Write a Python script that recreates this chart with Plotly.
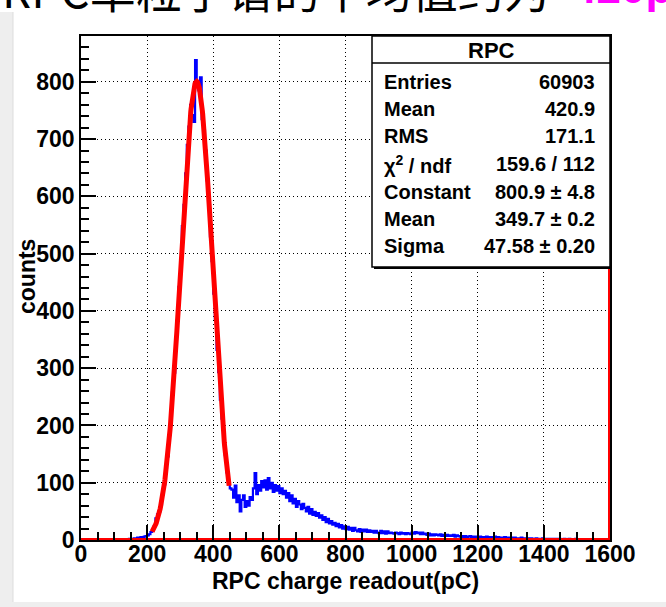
import numpy as np
import plotly.graph_objects as go

# ---------------- data ----------------
bin_width = 5
bin_start = 0
counts = (
    [0] * 24
    + [0, 1, 1, 1, 1, 2, 2, 2, 3, 3, 4, 4, 5, 5, 6, 7]
    + [8, 10, 14, 17, 24, 38, 45, 50, 62, 80, 97, 125, 146, 183, 212, 258, 292, 345, 384, 442,
       486, 548, 585, 640, 690, 722, 760, 742, 730, 838, 800, 785, 808, 735, 715, 680, 628, 588,
       530, 487, 430, 386, 332, 293, 245, 212, 174, 148, 118, 98, 90]
    + [88, 74, 95, 66, 78, 50, 70, 78, 58, 68, 60, 75, 70, 90, 117, 80, 96, 86, 103, 92,
       104, 88, 108, 90, 100, 84, 96, 86, 94, 82, 90, 80, 86, 74, 82, 68, 78, 64, 72, 58,
       68, 62, 54, 63, 56, 50, 58, 46, 54, 44, 49, 42, 47, 39, 43, 35, 40, 31, 37, 29,
       33, 27, 30, 24, 28, 22, 26, 20, 24, 19, 23, 18, 21, 16, 21, 17, 15, 19, 14]
    + [18, 15, 18, 14, 17, 14, 16, 13, 16, 13, 12, 16, 12, 15, 11, 15, 12, 13, 12, 11,
       13, 12, 10, 13, 11, 12, 10, 12, 11, 10]
    + [13, 11, 14, 12, 13, 10, 13, 10, 11, 9, 11, 8, 10, 8, 10, 9, 8, 10, 7, 9,
       7, 9, 7, 8, 7, 9, 6, 8, 7, 6]
    + [7, 5, 7, 5, 6, 7, 5, 6, 4, 6, 5, 6, 4, 5, 4, 6, 4, 5, 3, 5,
       6, 3, 5, 4, 3, 4, 5, 3, 4, 3]
    + [4, 3, 4, 2, 3, 3, 4, 2, 3, 2, 3, 2, 3, 2, 2, 3, 2, 1, 2, 3,
       2, 1, 2, 2, 1, 2, 1, 2, 1, 2, 1, 1, 2, 1, 1, 2, 1, 1, 1, 2,
       1, 1, 1, 0, 1, 1, 1, 0, 1, 1, 0, 1, 1, 0, 1, 0, 0, 0, 0, 0]
)

fit_constant = 800.9
fit_mean = 349.7
fit_sigma = 47.58
fit_range = [215, 448]

stats_title = "RPC"
stats_labels = ["Entries", "Mean", "RMS", "\u03c7<sup>2</sup> / ndf", "Constant", "Mean", "Sigma"]
stats_values = ["60903", "420.9", "171.1", "159.6 / 112", "800.9 \u00b1 4.8", "349.7 \u00b1 0.2", "47.58 \u00b1 0.20"]

x_ticks = [0, 200, 400, 600, 800, 1000, 1200, 1400, 1600]
y_ticks = [0, 100, 200, 300, 400, 500, 600, 700, 800]

x_title = "RPC charge readout(pC)"
y_title = "counts"
top_text_black = "RPC单粒子谱的平均值约为"
top_text_magenta = "420pC"

# ---------------- layout geometry ----------------
W, H = 666, 607
L, R, T, B = 81, 56, 36, 67
PW, PH = W - L - R, H - T - B


def X(px):
    return (px - L) / PW


def Y(py):
    return (H - B - py) / PH


edges = bin_start + bin_width * np.arange(len(counts) + 1)
hx = list(edges)
hy = list(counts) + [counts[-1]]

fx = np.linspace(fit_range[0], fit_range[1], 240)
fy = fit_constant * np.exp(-0.5 * ((fx - fit_mean) / fit_sigma) ** 2)

fig = go.Figure()
fig.add_trace(go.Scatter(x=hx, y=hy, mode="lines", line=dict(color="#0000ff", width=2.2, shape="hv"),
                         hoverinfo="skip"))
fig.add_trace(go.Scatter(x=[x_ticks[0], x_ticks[-1], x_ticks[-1]], y=[0, 0, 880], mode="lines",
                         line=dict(color="#ff0000", width=4), hoverinfo="skip"))
fig.add_trace(go.Scatter(x=fx, y=fy, mode="lines", line=dict(color="#ff0000", width=5),
                         hoverinfo="skip"))

tickfont = dict(family="Liberation Sans, Arial, sans-serif", size=23, color="black", weight="bold")

fig.update_xaxes(range=[0, 1600], tickvals=x_ticks, ticktext=[str(v) for v in x_ticks],
                 ticks="inside", ticklen=15, tickwidth=1.5, tickcolor="black",
                 minor=dict(dtick=50, tick0=0, ticks="inside", ticklen=8, tickwidth=1.5,
                            tickcolor="black", showgrid=False),
                 showgrid=True, gridcolor="#000000", gridwidth=1, griddash="1px,3px",
                 zeroline=False, showline=True, mirror=True, linecolor="black", linewidth=1.5,
                 tickfont=tickfont, ticklabelstandoff=-7)
fig.update_yaxes(range=[0, 880], tickvals=y_ticks, ticktext=[str(v) for v in y_ticks],
                 ticks="inside", ticklen=15, tickwidth=1.5, tickcolor="black",
                 minor=dict(dtick=20, tick0=0, ticks="inside", ticklen=8, tickwidth=1.5,
                            tickcolor="black", showgrid=False),
                 showgrid=True, gridcolor="#000000", gridwidth=1, griddash="1px,3px",
                 zeroline=False, showline=True, mirror=True, linecolor="black", linewidth=1.5,
                 tickfont=tickfont)

shapes = [
    dict(type="rect", xref="paper", yref="paper", x0=X(0), x1=X(13), y0=Y(607), y1=Y(12),
         fillcolor="#eeeeee", line=dict(width=0), layer="below"),
    dict(type="rect", xref="paper", yref="paper", x0=X(0), x1=X(666), y0=Y(607), y1=Y(602),
         fillcolor="#eeeeee", line=dict(width=0), layer="below"),
    dict(type="line", xref="paper", yref="paper", x0=X(13), x1=X(13), y0=Y(602), y1=Y(12),
         line=dict(color="#dddddd", width=1), layer="below"),
    dict(type="rect", xref="paper", yref="paper", x0=X(374), x1=X(612), y0=Y(269), y1=Y(38),
         fillcolor="black", line=dict(width=0), layer="above"),
    dict(type="rect", xref="paper", yref="paper", x0=X(372), x1=X(610), y0=Y(267), y1=Y(36),
         fillcolor="white", line=dict(color="black", width=1.5), layer="above"),
    dict(type="line", xref="paper", yref="paper", x0=X(372), x1=X(610), y0=Y(63), y1=Y(63),
         line=dict(color="black", width=1.5), layer="above"),
]

sfont = dict(family="Liberation Sans, Arial, sans-serif", size=20, color="black", weight="bold")
annotations = [
    dict(text=stats_title, x=X(491), y=Y(50), xref="paper", yref="paper", showarrow=False,
         xanchor="center", yanchor="middle", font=dict(sfont, size=22)),
]
row_y = [82, 109, 136, 164, 192, 219, 246]
for lab, val, py in zip(stats_labels, stats_values, row_y):
    annotations.append(dict(text=lab, x=X(382), y=Y(py), xref="paper", yref="paper", showarrow=False,
                            xanchor="left", yanchor="middle", font=sfont))
    annotations.append(dict(text=val, x=X(597), y=Y(py), xref="paper", yref="paper", showarrow=False,
                            xanchor="right", yanchor="middle", font=sfont))

annotations += [
    dict(text=x_title, x=X(345), y=Y(581), xref="paper", yref="paper", showarrow=False,
         xanchor="center", yanchor="middle",
         font=dict(family="Liberation Sans, Arial, sans-serif", size=23, color="black", weight="bold")),
    dict(text=y_title, x=X(27), y=Y(277), xref="paper", yref="paper", showarrow=False,
         xanchor="center", yanchor="middle", textangle=-90,
         font=dict(family="Liberation Sans, Arial, sans-serif", size=23, color="black", weight="bold")),
    dict(text=top_text_black, x=X(552), y=Y(-12), xref="paper", yref="paper", showarrow=False,
         xanchor="right", yanchor="middle",
         font=dict(family="Noto Sans CJK SC, sans-serif", size=46, color="black")),
    dict(text=top_text_magenta, x=X(570), y=Y(-12), xref="paper", yref="paper", showarrow=False,
         xanchor="left", yanchor="middle",
         font=dict(family="Liberation Sans, Arial, sans-serif", size=44, color="#ff00ff", weight="bold")),
]

fig.update_layout(width=W, height=H, margin=dict(l=L, r=R, t=T, b=B, pad=0),
                  paper_bgcolor="white", plot_bgcolor="white", showlegend=False,
                  shapes=shapes, annotations=annotations)
fig.update_xaxes(layer="above traces")
fig.update_yaxes(layer="above traces")

fig.write_html("out.html")
